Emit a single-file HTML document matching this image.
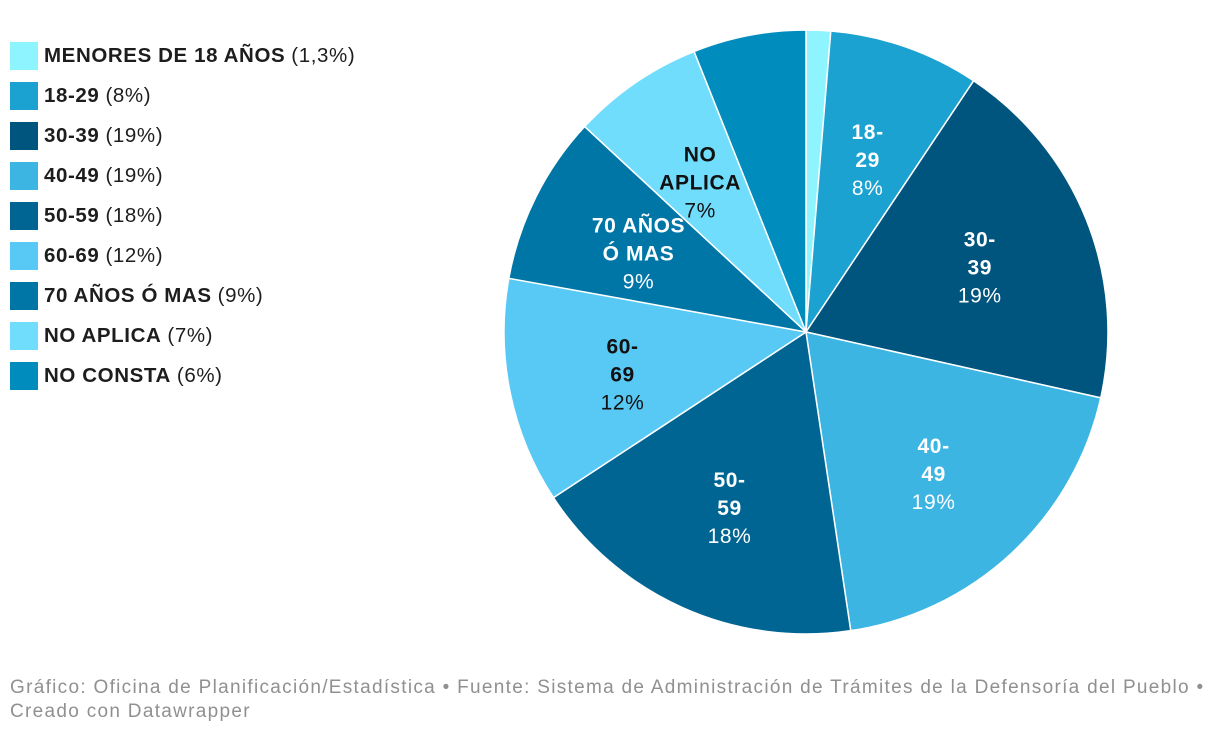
<!DOCTYPE html>
<html><head><meta charset="utf-8">
<style>
body{margin:0;background:#fff;font-family:"Liberation Sans",sans-serif;}
#wrap{position:relative;width:1220px;height:736px;overflow:hidden;}
.leg{position:absolute;left:10px;height:28px;display:flex;align-items:center;font-size:20.5px;letter-spacing:0.6px;color:#1d1d1d;white-space:nowrap;}
.sw{width:28px;height:28px;margin-right:6px;}
.leg b{margin-right:6px;}
#foot{position:absolute;left:10px;top:676px;font-size:19px;letter-spacing:1.3px;color:#909090;line-height:24px;width:1200px;}
</style></head><body>
<div id="wrap">
<div id="legend"></div>
<svg id="pie" width="1220" height="736" style="position:absolute;left:0;top:0"></svg>
<div id="foot">Gráfico: Oficina de Planificación/Estadística • Fuente: Sistema de Administración de Trámites de la Defensoría del Pueblo • Creado con Datawrapper</div>
</div>
<script>
const categories=["MENORES DE 18 AÑOS","18-29","30-39","40-49","50-59","60-69","70 AÑOS Ó MAS","NO APLICA","NO CONSTA"];
const values=[1.3,8,19,19,18,12,9,7,6];
const valueLabels=["1,3%","8%","19%","19%","18%","12%","9%","7%","6%"];
const sliceLabelLines=[null,["18-","29"],["30-","39"],["40-","49"],["50-","59"],["60-","69"],["70 AÑOS","Ó MAS"],["NO","APLICA"],null];
const colors=["#8ef4ff","#1ca2d0","#00557e","#3db5e3","#006592","#58c9f5","#0076a7","#70ddfd","#008dbd"];
const darkText=[true,false,false,false,false,true,false,true,false];
const leg=document.getElementById('legend');
categories.forEach((c,i)=>{
  const d=document.createElement('div');d.className='leg';d.style.top=(42+i*40)+'px';
  
  
  d.innerHTML='<div class="sw" style="background:'+colors[i]+'"></div><b>'+c+'</b>('+valueLabels[i]+')';
  leg.appendChild(d);
});
const svg=document.getElementById('pie');const NS='http://www.w3.org/2000/svg';
const cx=806,cy=332,r=302;
const total=values.reduce((a,b)=>a+b,0);
let a0=0;
function pt(a,rr){return [cx+rr*Math.sin(a),cy-rr*Math.cos(a)];}
values.forEach((v,i)=>{
  const a1=a0+v/total*2*Math.PI;
  const p0=pt(a0,r),p1=pt(a1,r);
  const p=document.createElementNS(NS,'path');
  p.setAttribute('d',`M${cx},${cy}L${p0[0]},${p0[1]}A${r},${r} 0 ${a1-a0>Math.PI?1:0} 1 ${p1[0]},${p1[1]}Z`);
  p.setAttribute('fill',colors[i]);p.setAttribute('stroke','#fff');p.setAttribute('stroke-width','1.5');
  
  
  svg.appendChild(p);
  if(sliceLabelLines[i]){
    const m=(a0+a1)/2,c=pt(m,r*0.62);
    const lines=sliceLabelLines[i].concat([valueLabels[i]]);
    const t=document.createElementNS(NS,'text');
    t.setAttribute('text-anchor','middle');t.setAttribute('font-size','21');
    t.setAttribute('letter-spacing','0.6');
    t.setAttribute('fill',darkText[i]?'#111':'#fff');
    
    
    const y0=c[1]-(lines.length-1)*28/2+12;
    lines.forEach((l,k)=>{const s=document.createElementNS(NS,'tspan');s.setAttribute('x',c[0]);s.setAttribute('y',y0+k*28);
      if(k<lines.length-1)s.setAttribute('font-weight','bold');s.textContent=l;t.appendChild(s);});
    svg.appendChild(t);
  }
  a0=a1;
});
</script>
</body></html>
